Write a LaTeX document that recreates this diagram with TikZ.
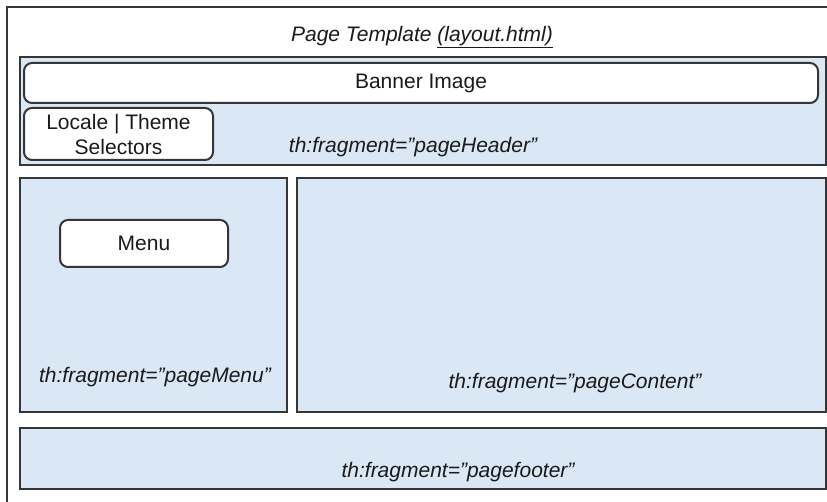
\documentclass[tikz,border=0pt]{standalone}
\usepackage{fontspec}
\setmainfont{Liberation Sans}
\definecolor{panelblue}{HTML}{DAE7F5}
\definecolor{edge}{HTML}{363636}
\definecolor{ink}{HTML}{1A1A1A}
\begin{document}
\begin{tikzpicture}[x=1pt,y=-1pt,
  panel/.style={draw=edge, line width=2.2pt, fill=panelblue, anchor=north west, inner sep=0pt, outer sep=0pt},
  pill/.style={draw=edge, line width=2pt, fill=white, rounded corners=8pt, anchor=north west, inner sep=0pt, outer sep=0pt},
  lbl/.style={text=ink, font=\fontsize{21}{25}\selectfont, inner sep=0pt},
  frag/.style={text=ink, font=\fontsize{21}{25}\selectfont\itshape, inner sep=0pt}]
\useasboundingbox (0,0) rectangle (827,502);
\fill[white] (0,0) rectangle (827,502);
\begin{scope}
\clip (0,0) rectangle (827,502);
\coordinate (obl) at (7,530);
\coordinate (otl) at (7,7);
\coordinate (otr) at (850,7);
\draw[edge, line width=2.2pt] (obl) -- (otl) -- (otr);
\end{scope}
% title
\node[frag] (title) at (422,37) {Page Template \underline{(layout.html)}};
% header
\node[panel, minimum width=806pt, minimum height=108pt] (header) at (20,57) {};
\node[pill, minimum width=794pt, minimum height=40pt] (banner) at (24,63) {};
\node[lbl] (bannertxt) at (banner.center) {Banner Image};
\node[pill, minimum width=189pt, minimum height=52pt] (locale) at (24,108) {};
\node[lbl, align=center] (localetxt) at (locale.center) {Locale | Theme\\Selectors};
\node[frag] (headertxt) at (413,147) {th:fragment="pageHeader”};
% menu panel
\node[panel, minimum width=267pt, minimum height=234pt] (menupanel) at (20,178) {};
\node[pill, minimum width=168pt, minimum height=47pt] (menu) at (60,220) {};
\node[lbl] (menutxt) at (menu.center) {Menu};
\node[frag] (menufrag) at (155,377) {th:fragment="pageMenu"};
% content panel
\node[panel, minimum width=529pt, minimum height=234pt] (content) at (297,178) {};
\node[frag] (contentfrag) at (575,383) {th:fragment="pageContent”};
% footer
\node[panel, minimum width=806pt, minimum height=61pt] (footer) at (20,428) {};
\node[frag] (footerfrag) at (458,472) {th:fragment="pagefooter”};
\end{tikzpicture}
\end{document}
